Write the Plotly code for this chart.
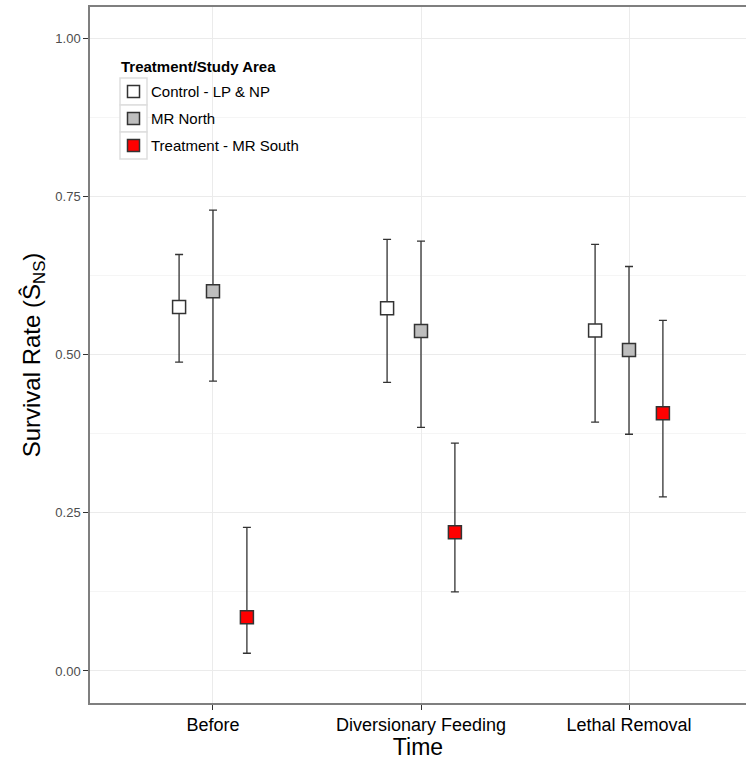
import plotly.graph_objects as go

categories = ["Before", "Diversionary Feeding", "Lethal Removal"]
groups = ["Control - LP & NP", "MR North", "Treatment - MR South"]
colors = ["#ffffff", "#bebebe", "#ff0000"]

estimate = {
    "Control - LP & NP": [0.575, 0.573, 0.538],
    "MR North": [0.600, 0.537, 0.507],
    "Treatment - MR South": [0.085, 0.219, 0.407],
}
upper = {
    "Control - LP & NP": [0.658, 0.682, 0.674],
    "MR North": [0.728, 0.679, 0.639],
    "Treatment - MR South": [0.227, 0.360, 0.554],
}
lower = {
    "Control - LP & NP": [0.488, 0.456, 0.393],
    "MR North": [0.458, 0.385, 0.374],
    "Treatment - MR South": [0.028, 0.125, 0.275],
}

dodge = [-0.163, 0.0, 0.163]
y_ticks = [0, 0.25, 0.5, 0.75, 1.0]
y_ticklabels = ["0.00", "0.25", "0.50", "0.75", "1.00"]
legend_title = "Treatment/Study Area"

W, H = 746, 760
ML, MR, MT, MB = 90, 0, 7, 57
PW, PH = W - ML - MR, H - MT - MB


def px(x):
    return (x - ML) / PW


def py(y):
    return (H - MB - y) / PH


fig = go.Figure()
for g, col, off in zip(groups, colors, dodge):
    est = estimate[g]
    up = [u - e for u, e in zip(upper[g], est)]
    lo = [e - l for l, e in zip(lower[g], est)]
    fig.add_trace(go.Scatter(
        x=[i + 1 + off for i in range(len(categories))],
        y=est,
        mode="markers",
        name=g,
        showlegend=False,
        marker=dict(symbol="square", size=13, color=col,
                    line=dict(color="#333333", width=1.5)),
        error_y=dict(type="data", symmetric=False, array=up, arrayminus=lo,
                     color="#333333", thickness=1.3, width=4),
    ))

# manual legend (ggplot style keys)
shapes = []
annotations = [dict(
    text="<b>" + legend_title + "</b>", x=px(119), y=py(66), xref="paper", yref="paper",
    xanchor="left", yanchor="middle", showarrow=False, font=dict(size=15, color="#000000"),
)]
for k, (g, col) in enumerate(zip(groups, colors)):
    top = 78 + 27 * k
    cy = top + 13.5
    shapes.append(dict(type="rect", xref="paper", yref="paper",
                       x0=px(120), x1=px(147), y0=py(top), y1=py(top + 27),
                       line=dict(color="#dedede", width=1.5), fillcolor="#ffffff", layer="above"))
    shapes.append(dict(type="rect", xref="paper", yref="paper",
                       x0=px(127.5), x1=px(139.5), y0=py(cy - 6), y1=py(cy + 6),
                       line=dict(color="#333333", width=1.5), fillcolor=col, layer="above"))
    annotations.append(dict(
        text=g, x=px(149), y=py(cy), xref="paper", yref="paper",
        xanchor="left", yanchor="middle", showarrow=False, font=dict(size=15, color="#000000"),
    ))

fig.update_layout(
    width=W, height=H,
    margin=dict(l=ML, r=MR, t=MT, b=MB, autoexpand=False),
    plot_bgcolor="white", paper_bgcolor="white",
    font=dict(family="Liberation Sans, Arial, sans-serif", color="#000000"),
    shapes=shapes,
    annotations=annotations,
    xaxis=dict(
        range=[0.4087, 3.5625],
        tickvals=[1, 2, 3], ticktext=categories,
        tickfont=dict(size=18, color="#000000"),
        ticks="outside", ticklen=5, tickcolor="#333333",
        showgrid=True, gridcolor="#ebebeb", gridwidth=1,
        showline=True, linecolor="#7f7f7f", linewidth=1.5, mirror=True,
        zeroline=False, automargin=False,
        title=dict(text="Time", font=dict(size=23), standoff=0),
    ),
    yaxis=dict(
        range=[-0.0506, 1.049],
        tickvals=y_ticks, ticktext=y_ticklabels,
        tickfont=dict(size=13, color="#4d4d4d"),
        ticks="outside", ticklen=5, tickcolor="#333333",
        showgrid=True, gridcolor="#ebebeb", gridwidth=1,
        minor=dict(tickvals=[0.125, 0.375, 0.625, 0.875], showgrid=True,
                   gridcolor="#f5f5f5", gridwidth=1, ticks=""),
        showline=True, linecolor="#7f7f7f", linewidth=1.5,
        zeroline=False, automargin=False,
        title=dict(text="Survival Rate (Ŝ<sub>NS</sub>)", font=dict(size=24), standoff=8),
    ),
)

fig.write_html("out.html", post_script="document.body.style.margin='0';",
               config={"displayModeBar": False})
